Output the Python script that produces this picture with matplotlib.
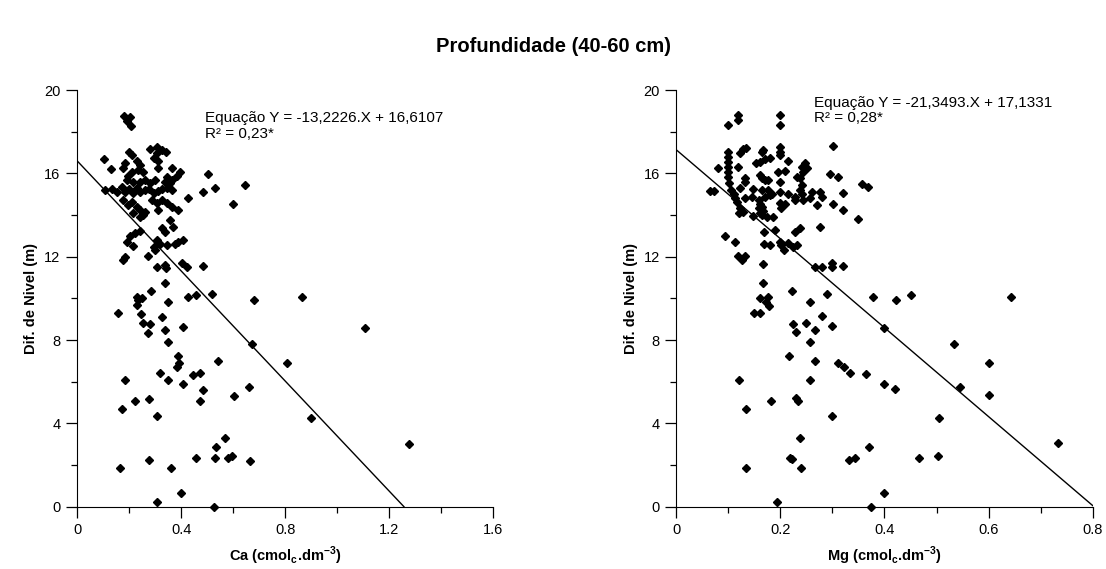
import numpy as np
import matplotlib
matplotlib.use("Agg")
import matplotlib.pyplot as plt

plt.rcParams['font.family'] = ['Liberation Sans', 'DejaVu Sans']
plt.rcParams['mathtext.fontset'] = 'custom'
plt.rcParams['mathtext.rm'] = 'Liberation Sans'
plt.rcParams['mathtext.bf'] = 'Liberation Sans:bold'

# Ca (cmolc.dm-3) x Dif. de Nivel (m)
ca = [0.182, 0.204, 0.194, 0.206, 0.104, 0.129, 0.201, 0.210, 0.185, 0.178,
      0.281, 0.306, 0.306, 0.326, 0.342, 0.294, 0.313, 0.229, 0.242, 0.236,
      0.255, 0.210, 0.197, 0.191, 0.313, 0.364, 0.396, 0.345, 0.383, 0.364,
      0.338, 0.505, 0.531, 0.646, 0.486, 0.428, 0.599, 0.390,
      0.108, 0.133, 0.153, 0.172, 0.185, 0.201, 0.217, 0.229, 0.242, 0.262,
      0.278, 0.294, 0.313, 0.326, 0.345, 0.364, 0.358, 0.262, 0.281, 0.242,
      0.300, 0.217,
      0.178, 0.197, 0.210, 0.229, 0.242, 0.255, 0.262, 0.242, 0.217, 0.287,
      0.306, 0.326, 0.345, 0.364, 0.313, 0.358, 0.370, 0.326, 0.338,
      0.204, 0.223, 0.242, 0.191, 0.217, 0.306, 0.319, 0.345, 0.377, 0.390,
      0.406, 0.294,
      0.178, 0.185, 0.274, 0.300, 0.306, 0.338, 0.342, 0.403, 0.422, 0.486,
      0.338, 0.285, 0.229, 0.236, 0.229, 0.249, 0.349, 0.428, 0.458, 0.518,
      0.682, 0.156, 0.246, 0.326, 0.255, 0.281, 0.274, 0.338, 0.406, 0.349,
      0.672, 0.387, 0.540, 0.393, 0.384, 0.319, 0.349, 0.444, 0.473, 0.186,
      0.406, 0.486, 0.662, 0.605, 0.473, 0.276, 0.224, 0.172, 0.306, 0.569,
      0.533,
      0.864, 1.108, 0.806, 0.900, 1.274,
      0.167, 0.277, 0.308, 0.360, 0.400, 0.456, 0.532, 0.582, 0.596, 0.666,
      0.525]
dif_ca = [18.75, 18.72, 18.53, 18.27, 16.69, 16.21, 17.04, 16.88, 16.51, 16.24,
          17.17, 17.28, 16.99, 17.12, 17.04, 16.72, 16.59, 16.61, 16.40, 16.16,
          16.08, 16.08, 15.87, 15.68, 16.24, 16.24, 16.08, 15.84, 15.87, 15.68,
          15.60, 15.97, 15.28, 15.44, 15.12, 14.80, 14.51, 14.24,
          15.20, 15.23, 15.12, 15.33, 15.12, 15.23, 15.04, 15.28, 15.12, 15.20,
          15.23, 15.07, 15.17, 15.23, 15.28, 15.20, 15.52, 15.68, 15.52, 15.60,
          15.68, 15.60,
          14.72, 14.48, 14.64, 14.40, 14.24, 14.00, 14.16, 13.92, 14.08, 14.72,
          14.56, 14.72, 14.56, 14.40, 14.24, 13.76, 13.44, 13.36, 13.20,
          12.99, 13.15, 13.25, 12.72, 12.53, 12.80, 12.61, 12.56, 12.61, 12.72,
          12.80, 12.48,
          11.84, 12.00, 12.04, 12.32, 11.52, 11.60, 11.44, 11.68, 11.52, 11.55,
          10.75, 10.36, 10.08, 9.92, 9.68, 10.00, 9.81, 10.08, 10.16, 10.21,
          9.92, 9.28, 9.25, 9.12, 8.80, 8.77, 8.35, 8.48, 8.64, 7.89,
          7.80, 7.23, 6.99, 6.88, 6.72, 6.43, 6.08, 6.32, 6.43, 6.08,
          5.87, 5.60, 5.73, 5.33, 5.07, 5.17, 5.09, 4.68, 4.35, 3.31,
          2.88,
          10.05, 8.56, 6.91, 4.27, 3.01,
          1.84, 2.24, 0.24, 1.84, 0.67, 2.32, 2.32, 2.32, 2.43, 2.21,
          0.00]

# Mg (cmolc.dm-3) x Dif. de Nivel (m)
mg = [0.119, 0.119, 0.100, 0.199, 0.199, 0.301,
      0.100, 0.100, 0.100, 0.100, 0.100, 0.122, 0.129, 0.134, 0.164, 0.167,
      0.199, 0.199, 0.199, 0.180, 0.171, 0.215, 0.154, 0.161, 0.119, 0.081,
      0.100, 0.247, 0.241, 0.251, 0.244, 0.196, 0.209, 0.161, 0.164, 0.171,
      0.132, 0.132, 0.177, 0.199, 0.231, 0.238, 0.295, 0.311, 0.356, 0.369,
      0.101, 0.065, 0.073, 0.106, 0.110, 0.122, 0.148, 0.164, 0.177, 0.183,
      0.199, 0.215, 0.228, 0.241, 0.238, 0.241, 0.260, 0.257, 0.276, 0.279,
      0.321,
      0.113, 0.116, 0.132, 0.145, 0.158, 0.161, 0.164, 0.158, 0.167, 0.161,
      0.164, 0.171, 0.180, 0.122, 0.129, 0.121, 0.199, 0.202, 0.209, 0.228,
      0.244, 0.270, 0.302, 0.321, 0.148, 0.174, 0.186, 0.350, 0.189, 0.168,
      0.238, 0.228, 0.276, 0.094, 0.113, 0.168, 0.180, 0.199, 0.202, 0.215,
      0.231, 0.225,
      0.119, 0.132, 0.127, 0.166, 0.207, 0.267, 0.280, 0.300, 0.300, 0.320,
      0.166, 0.222, 0.289, 0.160, 0.177, 0.172, 0.178, 0.257, 0.149, 0.160,
      0.279, 0.225, 0.249, 0.230, 0.266, 0.300, 0.257, 0.217, 0.266, 0.311,
      0.323, 0.334, 0.364, 0.120, 0.257, 0.230, 0.233, 0.181, 0.134, 0.300,
      0.238, 0.370,
      0.377, 0.423, 0.450, 0.643, 0.400, 0.534, 0.600, 0.400, 0.420, 0.545,
      0.600, 0.505, 0.733,
      0.133, 0.193, 0.218, 0.222, 0.240, 0.332, 0.343, 0.375, 0.400, 0.466,
      0.503]
dif_mg = [18.80, 18.56, 18.32, 18.80, 18.32, 17.31,
          17.04, 16.80, 16.56, 16.32, 16.08, 16.96, 17.15, 17.20, 17.04, 17.12,
          17.28, 17.04, 16.88, 16.72, 16.67, 16.59, 16.48, 16.56, 16.32, 16.24,
          15.84, 16.48, 16.32, 16.24, 16.08, 16.08, 16.13, 15.92, 15.76, 15.68,
          15.76, 15.60, 15.68, 15.60, 15.84, 15.76, 15.97, 15.81, 15.48, 15.36,
          15.52, 15.17, 15.17, 15.20, 15.00, 15.28, 15.23, 15.20, 15.20, 15.00,
          15.12, 15.00, 14.88, 15.44, 15.20, 15.00, 15.12, 14.80, 15.12, 14.88,
          15.07,
          14.80, 14.64, 14.80, 14.85, 14.72, 14.53, 14.40, 14.32, 14.21, 14.08,
          14.00, 14.88, 14.96, 14.32, 14.16, 14.08, 14.56, 14.32, 14.53, 14.72,
          14.72, 14.48, 14.51, 14.24, 13.96, 13.92, 13.92, 13.79, 13.28, 13.20,
          13.36, 13.20, 13.41, 12.99, 12.72, 12.61, 12.56, 12.72, 12.56, 12.64,
          12.56, 12.48,
          12.03, 12.03, 11.84, 11.63, 12.32, 11.49, 11.52, 11.68, 11.49, 11.57,
          10.75, 10.35, 10.21, 10.00, 10.08, 9.84, 9.63, 9.81, 9.28, 9.28,
          9.15, 8.77, 8.83, 8.40, 8.48, 8.67, 7.92, 7.23, 6.99, 6.88,
          6.72, 6.43, 6.35, 6.08, 6.08, 5.23, 5.09, 5.09, 4.67, 4.37,
          3.31, 2.85,
          10.08, 9.92, 10.16, 10.08, 8.56, 7.81, 6.91, 5.87, 5.63, 5.76,
          5.34, 4.27, 3.04,
          1.84, 0.24, 2.35, 2.27, 1.84, 2.24, 2.35, 0.00, 0.67, 2.35,
          2.43]

# regressao: inclinacao, intercepto
coef_ca = (-13.2226, 16.6107)
coef_mg = (-21.3493, 17.1331)
eq_ca = ["Equação Y = -13,2226.X + 16,6107", "R² = 0,23*"]
eq_mg = ["Equação Y = -21,3493.X + 17,1331", "R² = 0,28*"]

W, H = 1106, 569
fig = plt.figure(figsize=(W / 100, H / 100), dpi=100)

fig.text(0.5, 1 - 47 / H, "Profundidade (40-60 cm)", ha='center', va='center',
         fontsize=14.5, fontweight='bold')


def painel(left, x, y, coef, xmax, xmajor, xminor, xlabel, eq, eq_pos):
    ax = fig.add_axes([left / W, 62.3 / H, 416.4 / W, 416.6 / H])
    ax.plot(x, y, 'D', color='black', markersize=4.0, clip_on=False)
    a, b = coef
    xend = min(xmax, -b / a)
    xl = np.array([0, xend])
    ax.plot(xl, a * xl + b, color='black', lw=1.0)
    ax.set_xlim(0, xmax)
    ax.set_ylim(0, 20)
    ax.set_xticks(np.arange(0, xmax + 1e-9, xmajor))
    ax.set_xticks(np.arange(0, xmax + 1e-9, xminor), minor=True)
    ax.set_xticklabels([f"{v:g}" for v in np.arange(0, xmax + 1e-9, xmajor)])
    ax.set_yticks([0, 4, 8, 12, 16, 20])
    ax.set_yticks([2, 6, 10, 14, 18], minor=True)
    for s in ['top', 'right']:
        ax.spines[s].set_visible(False)
    ax.tick_params(which='major', direction='out', length=8, width=0.9,
                   labelsize=10.5, pad=4)
    ax.tick_params(which='minor', direction='out', length=4, width=0.9)
    ax.set_xlabel(xlabel, fontsize=10.5, fontweight='bold', labelpad=5)
    ax.set_ylabel("Dif. de Nivel (m)", fontsize=10.5, fontweight='bold',
                  labelpad=4)
    ex, ey1, ey2 = eq_pos
    fig.text(ex / W, 1 - ey1 / H, eq[0], fontsize=11, va='baseline')
    fig.text(ex / W, 1 - ey2 / H, eq[1], fontsize=11, va='baseline')
    return ax


painel(77, ca, dif_ca, coef_ca, 1.6, 0.4, 0.2,
       r"Ca (cmol$_\mathbf{c}$.dm$^\mathbf{-3}$)", eq_ca, (205, 122, 137.5))
painel(676.3, mg, dif_mg, coef_mg, 0.8, 0.2, 0.1,
       r"Mg (cmol$_\mathbf{c}$.dm$^\mathbf{-3}$)", eq_mg, (814, 107, 121.5))

fig.savefig("out.png", dpi=100)
